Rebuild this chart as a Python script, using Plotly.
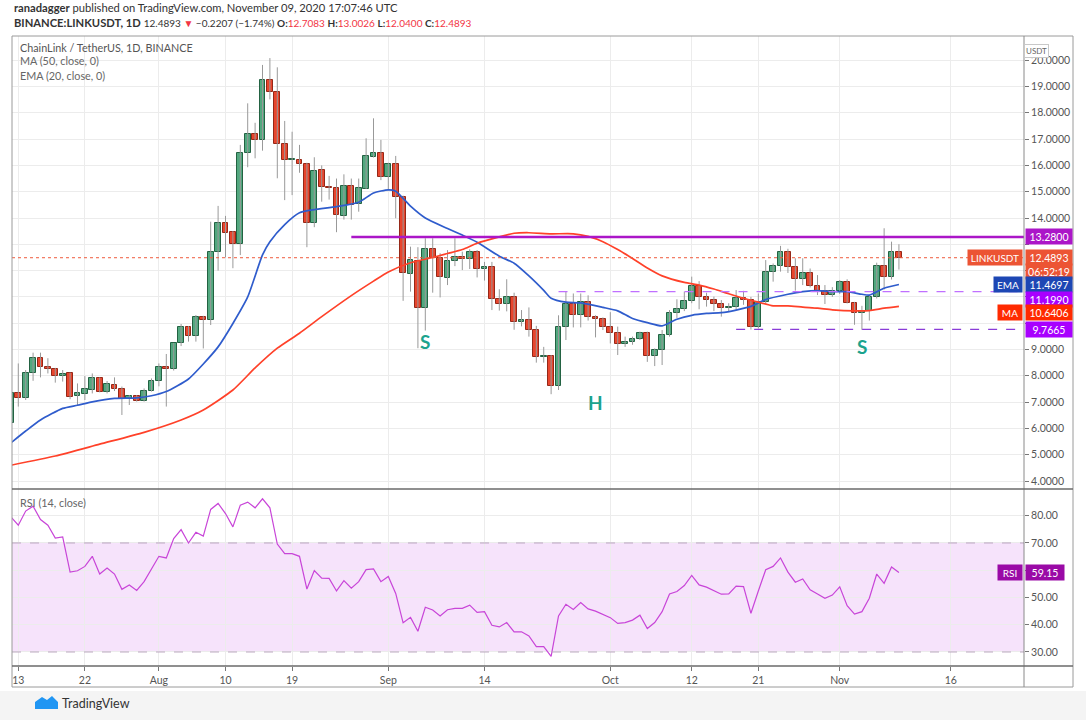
import pandas as pd
import plotly.graph_objects as go

# LINK/USDT daily candles, 2020-07-12 .. 2020-11-09
start_date = "2020-07-12"
opens = [6.20, 7.36, 7.14, 8.12, 8.67, 8.35, 8.25, 7.99, 8.10, 7.23, 7.31, 7.46, 7.90, 7.40, 7.65, 7.49,
         7.11, 7.23, 7.05, 7.42, 7.81, 8.32, 8.27, 9.23, 9.87, 9.51, 10.22, 10.12, 12.72, 13.80, 13.48,
         13.00, 16.46, 17.18, 16.97, 19.25, 18.80, 16.80, 16.21, 16.21, 16.04, 13.82, 15.83, 15.18, 15.13,
         14.08, 15.22, 14.52, 15.10, 16.33, 16.49, 15.57, 16.05, 14.79, 11.87, 12.37, 10.59, 12.81, 12.47,
         11.70, 12.35, 12.51, 12.43, 12.72, 12.05, 12.12, 10.91, 10.72, 11.01, 10.06, 10.12, 9.74, 8.70,
         8.76, 7.62, 9.87, 10.73, 10.31, 10.79, 10.25, 10.15, 9.87, 9.64, 9.20, 9.29, 9.40, 9.62, 8.76,
         8.98, 9.54, 10.38, 10.53, 10.86, 11.41, 11.01, 10.88, 10.73, 10.57, 10.63, 10.95, 10.88, 9.84,
         10.79, 11.93, 12.17, 12.70, 12.15, 11.68, 11.92, 11.43, 11.24, 11.07, 11.24, 11.58, 10.78, 10.38,
         10.48, 10.98, 12.17, 11.74, 12.7083]
highs = [7.55, 8.47, 8.22, 8.88, 8.88, 8.67, 8.30, 8.22, 8.12, 7.71, 7.99, 8.09, 7.94, 7.80, 7.94, 7.59,
         7.27, 7.27, 7.52, 7.90, 8.47, 8.83, 9.25, 9.97, 9.89, 10.31, 10.28, 13.86, 14.46, 14.08, 13.50,
         16.78, 18.36, 17.62, 19.82, 20.08, 19.73, 17.69, 17.28, 16.78, 16.10, 16.31, 16.00, 15.60, 15.50,
         15.66, 15.50, 15.50, 17.03, 17.79, 16.97, 16.10, 16.36, 14.85, 12.91, 12.89, 13.23, 13.23, 12.66,
         12.78, 13.23, 12.72, 12.81, 12.78, 12.33, 12.33, 11.29, 11.67, 11.16, 10.50, 10.60, 9.90, 9.10,
         8.79, 10.30, 11.20, 11.13, 11.13, 11.06, 10.30, 10.22, 10.42, 9.87, 9.49, 9.49, 9.68, 9.68, 9.04,
         9.74, 10.50, 10.91, 11.20, 11.77, 11.60, 11.16, 11.01, 10.88, 10.76, 11.26, 11.23, 11.00, 11.13,
         12.40, 12.27, 12.94, 12.83, 12.47, 12.47, 12.08, 11.83, 11.45, 11.37, 11.64, 11.67, 10.81, 10.66,
         11.07, 12.30, 13.61, 13.10, 13.0026]
lows = [6.05, 6.83, 7.08, 7.81, 7.94, 8.09, 7.74, 7.78, 7.11, 6.89, 7.08, 7.33, 7.37, 7.33, 7.42, 6.51,
        6.89, 7.02, 7.02, 7.40, 7.60, 6.83, 8.20, 9.13, 9.30, 9.30, 9.04, 9.93, 12.00, 12.50, 12.09,
        12.59, 15.93, 16.27, 16.56, 18.51, 15.51, 14.68, 14.87, 15.72, 12.89, 13.65, 14.62, 14.70, 13.46,
        13.94, 13.94, 14.24, 15.10, 16.30, 15.44, 15.05, 13.99, 10.85, 11.20, 9.05, 9.72, 11.16, 10.98,
        11.45, 12.17, 12.02, 12.06, 11.74, 11.62, 10.50, 10.48, 10.45, 9.75, 9.88, 9.49, 8.50, 8.50,
        7.30, 7.46, 9.36, 9.84, 9.84, 10.10, 9.46, 9.74, 9.23, 8.79, 9.10, 9.18, 9.36, 8.53, 8.37,
        8.41, 9.49, 10.20, 10.46, 10.76, 10.53, 10.63, 10.46, 10.25, 10.46, 10.51, 10.70, 9.76, 9.80,
        10.75, 11.58, 11.96, 11.91, 11.24, 11.45, 11.36, 11.07, 10.73, 11.00, 11.11, 10.75, 9.94, 9.75,
        10.10, 10.94, 11.28, 11.66, 12.04]
closes = [7.33, 7.14, 8.12, 8.67, 8.35, 8.25, 7.99, 8.07, 7.21, 7.33, 7.49, 7.90, 7.40, 7.69, 7.49, 7.11,
          7.23, 7.05, 7.42, 7.81, 8.32, 8.27, 9.23, 9.87, 9.51, 10.25, 10.12, 12.72, 13.80, 13.44, 13.00,
          16.46, 17.18, 16.97, 19.25, 18.80, 16.80, 16.21, 16.23, 16.04, 13.82, 15.79, 15.18, 15.13, 14.11,
          15.22, 14.49, 15.13, 16.36, 16.49, 15.57, 16.05, 14.79, 11.90, 12.40, 10.59, 12.81, 12.47, 11.74,
          12.37, 12.51, 12.43, 12.72, 12.05, 12.12, 10.91, 10.72, 11.01, 10.06, 10.12, 9.74, 8.70, 8.76,
          7.62, 9.87, 10.73, 10.31, 10.79, 10.25, 10.15, 9.87, 9.64, 9.20, 9.29, 9.40, 9.62, 8.76, 8.98,
          9.54, 10.38, 10.53, 10.86, 11.41, 11.01, 10.88, 10.73, 10.57, 10.63, 10.95, 10.88, 9.84, 10.79,
          11.93, 12.17, 12.70, 12.15, 11.68, 11.92, 11.43, 11.24, 11.07, 11.24, 11.58, 10.78, 10.38, 10.48,
          10.98, 12.17, 11.74, 12.71, 12.4893]
rsi_14 = [79.6, 76.5, 81.7, 83.5, 78.6, 76.5, 71.8, 72.2, 59.3, 59.8, 61.4, 65.1, 58.6, 60.8, 58.6, 53.0,
          54.6, 52.6, 55.8, 60.2, 65.1, 64.5, 71.6, 74.9, 70.0, 73.9, 72.5, 82.3, 84.5, 80.8, 75.9,
          83.9, 85.0, 82.9, 86.2, 82.9, 69.6, 66.1, 66.1, 65.1, 53.1, 59.9, 57.1, 57.0, 52.4, 56.2,
          53.4, 55.8, 60.2, 60.5, 55.8, 57.7, 51.5, 40.7, 42.7, 37.6, 46.4, 45.4, 43.2, 45.5, 46.0,
          46.0, 47.2, 44.5, 44.8, 39.8, 39.2, 40.8, 37.4, 37.4, 35.9, 32.0, 32.0, 28.4, 43.2, 47.5,
          45.6, 48.1, 45.8, 45.0, 43.8, 42.6, 40.5, 40.8, 41.7, 43.5, 38.6, 40.8, 44.8, 51.3, 52.2,
          54.4, 58.1, 54.6, 53.8, 52.5, 51.2, 51.3, 54.2, 54.0, 44.2, 52.4, 60.2, 61.4, 64.5, 59.3,
          55.6, 56.8, 52.8, 51.3, 49.7, 50.9, 53.9, 47.0, 43.9, 44.8, 49.7, 58.6, 55.2, 61.2, 59.15]

ema_dates = ["2020-07-12", "2020-07-14", "2020-07-16", "2020-07-19", "2020-07-21", "2020-07-23", "2020-07-26",
             "2020-07-29", "2020-07-31", "2020-08-02", "2020-08-05", "2020-08-07", "2020-08-09", "2020-08-11",
             "2020-08-13", "2020-08-15", "2020-08-16", "2020-08-18", "2020-08-20", "2020-08-22", "2020-08-25",
             "2020-08-28", "2020-08-30", "2020-09-01", "2020-09-02", "2020-09-04", "2020-09-06", "2020-09-09",
             "2020-09-11", "2020-09-13", "2020-09-16", "2020-09-18", "2020-09-20", "2020-09-22", "2020-09-23",
             "2020-09-25", "2020-09-27", "2020-09-30", "2020-10-02", "2020-10-04", "2020-10-06", "2020-10-08",
             "2020-10-10", "2020-10-12", "2020-10-14", "2020-10-16", "2020-10-18", "2020-10-20", "2020-10-22",
             "2020-10-25", "2020-10-27", "2020-10-29", "2020-10-31", "2020-11-02", "2020-11-04", "2020-11-05",
             "2020-11-07", "2020-11-09"]
ema_20 = [5.45, 5.90, 6.32, 6.76, 6.88, 7.01, 7.14, 7.16, 7.24, 7.40, 7.88, 8.45, 9.10, 9.99,
          11.00, 12.60, 13.10, 13.75, 14.20, 14.32, 14.43, 14.60, 14.95, 15.07, 15.02, 14.45, 14.00, 13.60,
          13.35, 13.08, 12.55, 12.28, 11.80, 11.25, 10.95, 10.80, 10.77, 10.60, 10.47, 10.18, 10.02, 9.90,
          10.15, 10.30, 10.37, 10.40, 10.50, 10.64, 10.90, 11.10, 11.20, 11.24, 11.20, 11.20, 11.10, 11.07,
          11.33, 11.47]

ma_dates = ["2020-07-12", "2020-07-18", "2020-07-24", "2020-07-30", "2020-08-04", "2020-08-07", "2020-08-11",
            "2020-08-14", "2020-08-17", "2020-08-20", "2020-08-23", "2020-08-27", "2020-08-30", "2020-09-01",
            "2020-09-04", "2020-09-07", "2020-09-09", "2020-09-11", "2020-09-13", "2020-09-16", "2020-09-18",
            "2020-09-20", "2020-09-23", "2020-09-26", "2020-09-28", "2020-09-30", "2020-10-02", "2020-10-04",
            "2020-10-06", "2020-10-08", "2020-10-11", "2020-10-13", "2020-10-15", "2020-10-17", "2020-10-19",
            "2020-10-21", "2020-10-23", "2020-10-25", "2020-10-27", "2020-10-29", "2020-10-31", "2020-11-03",
            "2020-11-05", "2020-11-07", "2020-11-09"]
ma_50 = [4.60, 4.95, 5.40, 5.85, 6.32, 6.70, 7.46, 8.30, 9.05, 9.62, 10.25, 11.05, 11.60, 11.95,
         12.30, 12.50, 12.65, 12.80, 13.04, 13.28, 13.42, 13.44, 13.40, 13.40, 13.30, 13.10, 12.80, 12.46,
         12.10, 11.80, 11.55, 11.45, 11.30, 11.12, 10.95, 10.80, 10.66, 10.66, 10.61, 10.57, 10.51, 10.47,
         10.48, 10.57, 10.64]

resistance = 13.28
neckline = 11.199
support = 9.7665
level_starts = ["2020-08-27", "2020-09-24", "2020-10-18"]

pattern_labels = ["S", "H", "S"]
pattern_dates = ["2020-09-06", "2020-09-29", "2020-11-04"]
pattern_prices = [9.29, 7.0, 9.1]

date_ticks = ["2020-07-13", "2020-07-22", "2020-08-01", "2020-08-10", "2020-08-19", "2020-09-01",
              "2020-09-14", "2020-10-01", "2020-10-12", "2020-10-21", "2020-11-01", "2020-11-16"]
date_labels = ["13", "22", "Aug", "10", "19", "Sep", "14", "Oct", "12", "21", "Nov", "16"]
price_ticks = list(range(4, 21))
rsi_ticks = [30, 40, 50, 60, 70, 80]

x_range = ["2020-07-12 03:36", "2020-11-25 21:36"]

# pixel -> paper helpers (plot area is x 12..1024, y 36..666)
def px(x):
    return (x - 12) / (1024 - 12)

def py(y):
    return (666 - y) / (666 - 36)

dates = pd.date_range(start_date, periods=len(closes))
up = [c >= o for o, c in zip(opens, closes)]
body_base = [min(o, c) for o, c in zip(opens, closes)]
body_len = [max(abs(c - o), 0.035) for o, c in zip(opens, closes)]

wick_x, wick_y = [], []
for d, h, l in zip(dates, highs, lows):
    wick_x += [d, d, None]
    wick_y += [h, l, None]

GREEN, GREEN_EDGE = "#52a87f", "#236242"
RED, RED_EDGE = "#e8452d", "#952818"
FONT = "Lato"

fig = go.Figure()
fig.add_trace(go.Scatter(x=wick_x, y=wick_y, mode="lines",
                         line=dict(color="#999999", width=1), hoverinfo="skip"))
fig.add_trace(go.Bar(x=dates, y=body_len, base=body_base, width=0.78 * 86400000,
                     marker=dict(color=[GREEN if u else RED for u in up],
                                 line=dict(color=[GREEN_EDGE if u else RED_EDGE for u in up], width=1))))
fig.add_trace(go.Scatter(x=ema_dates, y=ema_20, mode="lines",
                         line=dict(color="#2f5ccc", width=1.7, shape="spline", smoothing=0.6)))
fig.add_trace(go.Scatter(x=ma_dates, y=ma_50, mode="lines",
                         line=dict(color="#ff4129", width=1.7, shape="spline", smoothing=0.6)))
fig.add_trace(go.Scatter(x=dates, y=rsi_14, mode="lines", xaxis="x2", yaxis="y2",
                         line=dict(color="#c845d8", width=1.2)))

shapes = [
    # RSI band
    dict(type="rect", xref="paper", yref="y2", x0=0, x1=1, y0=30, y1=70,
         fillcolor="#f6e3fb", line=dict(width=0), layer="below"),
    dict(type="line", xref="paper", yref="y2", x0=0, x1=1, y0=70, y1=70,
         line=dict(color="#bba6c0", width=1, dash="dash")),
    dict(type="line", xref="paper", yref="y2", x0=0, x1=1, y0=30, y1=30,
         line=dict(color="#bba6c0", width=1, dash="dash")),
    # current price
    dict(type="line", xref="paper", yref="y", x0=0, x1=1, y0=closes[-1], y1=closes[-1],
         line=dict(color="#ef5a3d", width=1, dash="dot")),
    # pattern levels
    dict(type="line", xref="x", yref="y", x0=level_starts[0], x1=x_range[1], y0=resistance, y1=resistance,
         line=dict(color="#ab16c8", width=2.5)),
    dict(type="line", xref="x", yref="y", x0=level_starts[1], x1=x_range[1], y0=neckline, y1=neckline,
         line=dict(color="#c070ff", width=1.2, dash="dash")),
    dict(type="line", xref="x", yref="y", x0=level_starts[2], x1=x_range[1], y0=support, y1=support,
         line=dict(color="#8a3cd8", width=1.2, dash="dash")),
    # frame
    dict(type="rect", xref="paper", yref="paper", x0=px(12), x1=px(1073), y0=py(687), y1=py(36),
         line=dict(color="#9a9a9a", width=1)),
    dict(type="line", xref="paper", yref="paper", x0=1, x1=1, y0=py(687), y1=py(36),
         line=dict(color="#8a8a8a", width=1)),
    dict(type="line", xref="paper", yref="paper", x0=px(12), x1=px(1073), y0=py(489), y1=py(489),
         line=dict(color="#6a6a6a", width=1.5)),
    dict(type="line", xref="paper", yref="paper", x0=px(12), x1=px(1073), y0=0, y1=0,
         line=dict(color="#6a6a6a", width=1.5)),
    # footer band and logo
    dict(type="rect", xref="paper", yref="paper", x0=px(0), x1=px(1086), y0=py(720), y1=py(691),
         fillcolor="#f4f4f4", line=dict(width=0), layer="below"),
    dict(type="path", xref="paper", yref="paper", fillcolor="#2196f3", line=dict(width=0),
         path=f"M {px(35)} {py(709)} L {px(35)} {py(702)} L {px(42)} {py(697)} L {px(47)} {py(700)} "
              f"L {px(52)} {py(696)} L {px(58)} {py(702)} L {px(58)} {py(709)} Z"),
]

annotations = []


def txt(x, y, text, size=11, color="#4a4a4a"):
    annotations.append(dict(xref="paper", yref="paper", x=px(x), y=py(y), text=text, showarrow=False,
                            xanchor="left", yanchor="middle", font=dict(family=FONT, size=size, color=color)))


def red(s):
    return f"<span style='color:#f23645'>{s}</span>"


txt(12, 8, "<b>ranadagger</b> published on TradingView.com, November 09, 2020 17:07:46 UTC",
    size=11.2, color="#333333")
txt(12, 22, "<b>BINANCE:LINKUSDT, 1D</b> <span style='font-size:10px'>12.4893 " + red("▼")
    + " −0.2207 (−1.74%) <b>O:</b>" + red("12.7083") + " <b>H:</b>" + red("13.0026")
    + " <b>L:</b>" + red("12.0400") + " <b>C:</b>" + red("12.4893") + "</span>",
    size=11.2, color="#333333")
txt(18, 47, "ChainLink / TetherUS, 1D, BINANCE", size=10.8, color="#555555")
txt(18, 61, "MA (50, close, 0)", size=10.8, color="#666666")
txt(18, 75, "EMA (20, close, 0)", size=10.8, color="#666666")
txt(18, 502, "RSI (14, close)", size=10.8, color="#666666")
txt(60, 703, "TradingView", size=12.5, color="#333333")

for lab, d, p in zip(pattern_labels, pattern_dates, pattern_prices):
    annotations.append(dict(x=d, y=p, xref="x", yref="y", text=f"<b>{lab}</b>", showarrow=False,
                            font=dict(family=FONT, size=19, color="#1ca38d")))


def axis_box(yref, y, text, bg, width=44):
    annotations.append(dict(xref="paper", yref=yref, x=px(1025), y=y, text=text, showarrow=False,
                            xanchor="left", yanchor="middle", bgcolor=bg, width=width, height=13,
                            font=dict(family=FONT, size=10.5, color="white")))


def name_box(yref, y, text, bg, width):
    annotations.append(dict(xref="paper", yref=yref, x=px(1023), y=y, text=text, showarrow=False,
                            xanchor="right", yanchor="middle", bgcolor=bg, width=width, height=13,
                            font=dict(family=FONT, size=10, color="white")))


axis_box("y", resistance, "13.2800", "#ab16c8")
axis_box("y", closes[-1], "12.4893", "#ec5434")
axis_box("y", 11.98, "06:52:19", "#ec5434")
axis_box("y", ema_20[-1], "11.4697", "#1d47b4")
axis_box("y", 10.92, "11.1990", "#a800ff")
axis_box("y", 10.39, "10.6406", "#ff2a00")
axis_box("y", support, "9.7665", "#a800ff")
axis_box("y2", rsi_14[-1], "59.15", "#9a0aa6", width=36)
name_box("y", closes[-1], "LINKUSDT", "#ec5434", 52)
name_box("y", ema_20[-1], "EMA", "#1d47b4", 26)
name_box("y", 10.39, "MA", "#ff2a00", 22)
name_box("y2", rsi_14[-1], "RSI", "#9a0aa6", 22)
annotations.append(dict(xref="paper", yref="paper", x=px(1049), y=py(44), text="USDT", showarrow=False,
                        bordercolor="#c8c8c8", borderwidth=1, borderpad=1, bgcolor="white",
                        font=dict(family=FONT, size=8, color="#666666")))

# tick labels hidden behind the value boxes are left blank (grid lines stay)
price_text = ["" if 10 <= v <= 13 else f"{v:.4f}" for v in price_ticks]
rsi_text = ["" if v == 60 else f"{v:.2f}" for v in rsi_ticks]

grid = "#ececec"
fig.update_layout(
    width=1086, height=720, autosize=False,
    margin=dict(l=12, r=62, t=36, b=54),
    paper_bgcolor="white", plot_bgcolor="white",
    showlegend=False, bargap=0,
    font=dict(family=FONT, size=10, color="#4a4a4a"),
    xaxis=dict(domain=[0, 1], anchor="y", type="date", range=x_range, tickvals=date_ticks,
               showticklabels=False, showgrid=True, gridcolor=grid, zeroline=False),
    xaxis2=dict(domain=[0, 1], anchor="y2", type="date", range=x_range, tickvals=date_ticks,
                ticktext=date_labels, showgrid=True, gridcolor=grid, zeroline=False,
                ticks="outside", ticklen=4, tickcolor="#777777", tickfont=dict(size=10.5, color="#555555")),
    yaxis=dict(domain=[py(489), 1], side="right", range=[3.696, 20.92], tickvals=price_ticks,
               ticktext=price_text, showgrid=True, gridcolor=grid, zeroline=False, ticks="outside",
               ticklen=4, tickcolor="#777777", tickfont=dict(size=10.5, color="#555555")),
    yaxis2=dict(domain=[0, py(489)], side="right", range=[24.86, 89.8], tickvals=rsi_ticks,
                ticktext=rsi_text, showgrid=True, gridcolor=grid, zeroline=False, ticks="outside",
                ticklen=4, tickcolor="#777777", tickfont=dict(size=10.5, color="#555555")),
    shapes=shapes,
    annotations=annotations,
)

# drop the default 8px page margin so the 1086x720 figure fills the window exactly
fig.write_html("out.html", config={"displayModeBar": False},
               post_script="document.body.style.margin = '0px';")
